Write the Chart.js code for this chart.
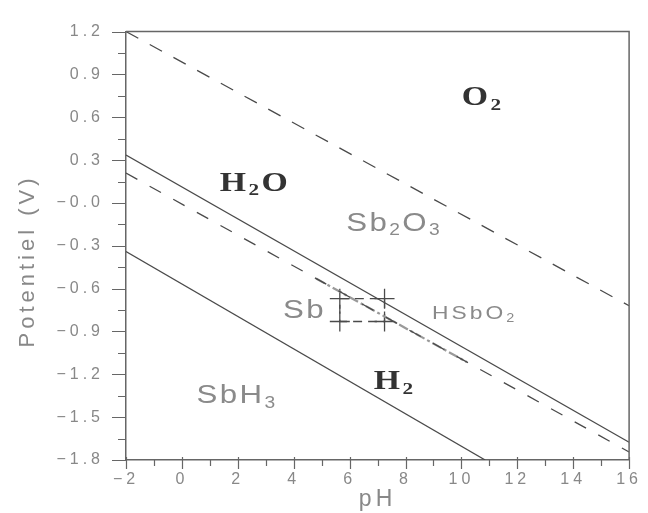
<!DOCTYPE html>
<html><head><meta charset="utf-8">
<script src="https://cdn.jsdelivr.net/npm/chart.js@4"></script>
<style>html,body{margin:0;padding:0;background:#fff}#wrap{width:648px;height:513px;position:relative}canvas{display:block}</style>
</head><body><div id="wrap"><canvas id="c" width="648" height="513" style="width:648px;height:513px"></canvas></div>
<script>
// ---- data ----
const xTickLabels = ['\u22122','0','2','4','6','8','10','12','14','16'];
const yTickLabels = ['1.2','0.9','0.6','0.3','\u22120.0','\u22120.3','\u22120.6','\u22120.9','\u22121.2','\u22121.5','\u22121.8'];

const o2LinePh = [-2, 16];        const o2LineE = [1.2, -0.72];
const upperSolidPh = [-2, 16];    const upperSolidE = [0.335, -1.676];
const lowerDashedPh = [-2, 16];   const lowerDashedE = [0.209, -1.744];
const lowerSolidPh = [-2, 10.85]; const lowerSolidE = [-0.34, -1.80];
const hsbo2LinePh = [4.8, 10.19]; const hsbo2LineE = [-0.529, -1.114];
const boxPh = [5.65, 7.25, 7.25, 5.65, 5.65];
const boxE  = [-0.67, -0.67, -0.83, -0.83, -0.67];
const crossPh = [5.65, 7.25, 7.25, 5.65];
const crossE  = [-0.67, -0.67, -0.83, -0.83];

const regionNames = ['O_2', 'H_2O', 'Sb_2O_3', 'Sb', 'HSbO_2', 'H_2', 'SbH_3'];
const regionPh    = [10.72, 2.57, 7.55, 4.34, 10.42, 7.57, 1.93];
const regionE     = [0.75, 0.153, -0.131, -0.739, -0.763, -1.236, -1.338];

// ---- helpers ----
const pts = (xs, ys) => xs.map((v, i) => ({x: v, y: ys[i]}));
const LINE = '#4a4a4a';

const serifStyle = {family: '"Liberation Serif", "DejaVu Serif", serif', weight: 'bold', size: 27, color: '#333', sx: 1.25, ls: 2};
const sansStyle  = {family: '"Liberation Sans", Arial, sans-serif', weight: 'normal', size: 26, color: '#8a8a8a', sx: 1.2, ls: 2};
const smallStyle = {family: '"Liberation Sans", Arial, sans-serif', weight: 'normal', size: 19, color: '#8a8a8a', sx: 1.2, ls: 2.5};
const regionStyle = [serifStyle, serifStyle, sansStyle, sansStyle, smallStyle, serifStyle, sansStyle];

function drawRich(ctx, str, cx, cy, st) {
  const parts = [];
  for (let i = 0; i < str.length; i++) {
    if (str[i] === '_') { parts.push({t: str[i + 1], sub: true}); i++; }
    else parts.push({t: str[i], sub: false});
  }
  const mainFont = `${st.weight} ${st.size}px ${st.family}`;
  const subFont = `${st.weight} ${Math.round(st.size * 0.62)}px ${st.family}`;
  ctx.letterSpacing = st.ls + 'px';
  let w = 0;
  parts.forEach(p => { ctx.font = p.sub ? subFont : mainFont; p.w = ctx.measureText(p.t).width; w += p.w; });
  w -= st.ls;
  ctx.save();
  ctx.translate(cx, cy);
  ctx.scale(st.sx, 1);
  ctx.fillStyle = st.color;
  ctx.textBaseline = 'alphabetic';
  ctx.textAlign = 'left';
  const base = st.size * 0.35;
  let xx = -w / 2;
  parts.forEach(p => {
    ctx.font = p.sub ? subFont : mainFont;
    ctx.fillText(p.t, xx, p.sub ? base + st.size * 0.18 : base);
    xx += p.w;
  });
  ctx.restore();
}

const decor = {
  id: 'decor',
  beforeDraw(chart) { chart.ctx.letterSpacing = '4px'; },
  afterDraw(chart) {
    const {ctx, chartArea: a, scales: {x, y}} = chart;
    ctx.save();
    ctx.letterSpacing = '0px';
    ctx.strokeStyle = '#666';
    ctx.lineWidth = 1.5;
    ctx.beginPath();
    ctx.moveTo(a.left, a.top); ctx.lineTo(a.right, a.top); ctx.lineTo(a.right, a.bottom);
    ctx.stroke();
    ctx.lineWidth = 1.2;
    ctx.beginPath();
    x.ticks.forEach(t => {
      const px = Math.round(x.getPixelForValue(t.value)) + 0.5;
      const major = Math.abs(t.value % 2) < 1e-6;
      ctx.moveTo(px, a.bottom - (major ? 3 : 0));
      ctx.lineTo(px, a.bottom + (major ? 9 : 6));
    });
    y.ticks.forEach(t => {
      const py = Math.round(y.getPixelForValue(t.value)) + 0.5;
      const k = (1.2 - t.value) / 0.3;
      const major = Math.abs(k - Math.round(k)) < 1e-6;
      ctx.moveTo(a.left - (major ? 14 : 8), py);
      ctx.lineTo(a.left, py);
    });
    ctx.stroke();
    regionNames.forEach((n, i) => {
      drawRich(ctx, n, x.getPixelForValue(regionPh[i]), y.getPixelForValue(regionE[i]), regionStyle[i]);
    });
    ctx.restore();
    ctx.letterSpacing = '0px';
  }
};

new Chart(document.getElementById('c'), {
  type: 'scatter',
  data: {
    datasets: [
      {data: pts(o2LinePh, o2LineE), showLine: true, borderColor: LINE, borderWidth: 1.3, borderDash: [14, 13], pointRadius: 0},
      {data: pts(upperSolidPh, upperSolidE), showLine: true, borderColor: LINE, borderWidth: 1.3, pointRadius: 0},
      {data: pts(lowerDashedPh, lowerDashedE), showLine: true, borderColor: LINE, borderWidth: 1.3, borderDash: [13, 14], pointRadius: 0},
      {data: pts(lowerSolidPh, lowerSolidE), showLine: true, borderColor: LINE, borderWidth: 1.3, pointRadius: 0},
      {data: pts(hsbo2LinePh, hsbo2LineE), showLine: true, borderColor: '#9a9a9a', borderWidth: 2.2, borderDash: [10, 3, 3, 3], pointRadius: 0},
      {data: pts(boxPh, boxE), showLine: true, borderColor: LINE, borderWidth: 1.3, borderDash: [9, 6], pointRadius: 0},
      {data: pts(crossPh, crossE), showLine: false, borderColor: LINE, borderWidth: 1.3, pointStyle: 'cross', pointRadius: 10, backgroundColor: LINE}
    ]
  },
  options: {
    responsive: false,
    animation: false,
    devicePixelRatio: 1,
    layout: {padding: {top: 16, right: 14, bottom: 0, left: 0}},
    plugins: {legend: {display: false}, tooltip: {enabled: false}},
    scales: {
      x: {
        type: 'linear', min: -2, max: 16,
        afterFit(s) { s.height = 53; },
        grid: {display: false, drawTicks: false},
        border: {display: true, color: '#666', width: 1.5},
        ticks: {
          stepSize: 1, autoSkip: false, maxRotation: 0, padding: 10,
          color: '#888', font: {family: '"Liberation Sans", Arial, sans-serif', size: 16},
          callback: v => { const k = (v + 2) / 2; return Math.abs(k - Math.round(k)) < 1e-6 ? xTickLabels[Math.round(k)] : ''; }
        },
        title: {display: true, text: 'pH', color: '#888', font: {family: '"Liberation Sans", Arial, sans-serif', size: 23}, padding: {top: 0, bottom: 0}}
      },
      y: {
        type: 'linear', min: -1.8, max: 1.2,
        afterFit(s) { s.width = 126; },
        grid: {display: false, drawTicks: false},
        border: {display: true, color: '#666', width: 1.5},
        ticks: {
          stepSize: 0.15, autoSkip: false, padding: 22,
          color: '#888', font: {family: '"Liberation Sans", Arial, sans-serif', size: 16},
          callback: v => { const k = (1.2 - v) / 0.3; return Math.abs(k - Math.round(k)) < 1e-6 ? yTickLabels[Math.round(k)] : ''; }
        },
        title: {display: true, text: 'Potentiel (V)   ', color: '#888', font: {family: '"Liberation Sans", Arial, sans-serif', size: 22}, padding: {top: 15, bottom: 0}}
      }
    }
  },
  plugins: [decor]
});
</script></body></html>
